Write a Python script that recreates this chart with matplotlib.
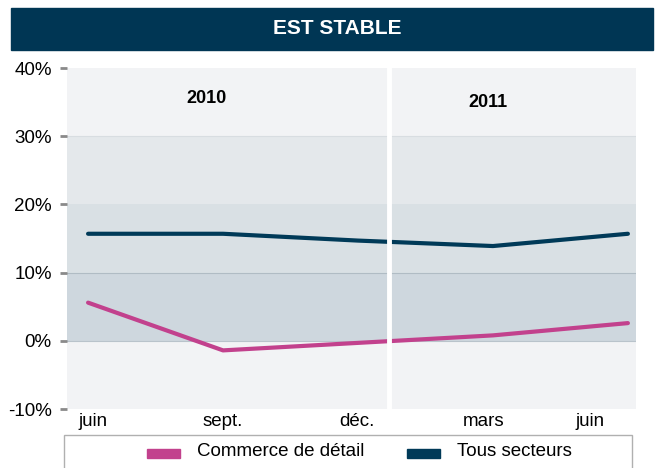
import matplotlib
matplotlib.use("Agg")
import matplotlib.pyplot as plt
from matplotlib.patches import Rectangle

plt.rcParams['font.family'] = ['Liberation Sans', 'DejaVu Sans']

# data (quarterly points, jun 2010 -> jun 2011)
x_pos = [0, 1, 2, 3, 4]
commerce = [5.6, -1.4, -0.3, 0.8, 2.6]
tous = [15.7, 15.7, 14.7, 13.9, 15.7]
series_names = ['Commerce de détail', 'Tous secteurs']
series_colors = ['#c2418d', '#003a58']
tick_pos = [0.04, 1.0, 1.99, 2.93, 3.72]
tick_labels = ['juin', 'sept.', 'déc.', 'mars', 'juin']
yticks = [-10, 0, 10, 20, 30, 40]
bands = [(-10, 0, '#f2f3f5'), (0, 10, '#ced7de'), (10, 20, '#d9e0e4'),
         (20, 30, '#e4e8eb'), (30, 40, '#f2f3f5')]
band_lines = [(0, '#b9c3cb'), (10, '#b0bcc4'), (30, '#d8dde1')]

fig = plt.figure(figsize=(6.59, 4.68), dpi=100)
ax = fig.add_axes([0.1017, 0.126, 0.8634, 0.7286])

for lo, hi, c in bands:
    ax.axhspan(lo, hi, color=c, lw=0, zorder=0)
for yv, c in band_lines:
    ax.axhline(yv, color=c, lw=0.8, zorder=1)

ax.plot(x_pos, commerce, color=series_colors[0], lw=3, solid_capstyle='round', zorder=3)
ax.plot(x_pos, tous, color=series_colors[1], lw=3, solid_capstyle='round', zorder=3)

# year separator
ax.axvline(2.23, color='white', lw=3.5, zorder=4)
ax.text(0.88, 35.6, '2010', fontsize=13, fontweight='bold', ha='center', va='center')
ax.text(2.96, 34.9, '2011', fontsize=13, fontweight='bold', ha='center', va='center')

ax.set_xlim(-0.156, 4.06)
ax.set_ylim(-10, 40)
ax.set_yticks(yticks)
ax.set_yticklabels(['%d%%' % v for v in yticks], fontsize=13.5)
ax.set_xticks(tick_pos)
ax.set_xticklabels(tick_labels, fontsize=13.5)
ax.tick_params(axis='y', length=5, width=2, color='#8a8a8a', pad=6)
ax.tick_params(axis='x', length=0, pad=3)
for s in ax.spines.values():
    s.set_visible(False)

# title bar
fig.patches.append(Rectangle((11 / 659, 1 - 50 / 468), 642 / 659, 42 / 468,
                             transform=fig.transFigure, color='#003654', zorder=0))
fig.text(337 / 659, 1 - 29 / 468, 'EST STABLE', color='white', fontsize=15,
         fontweight='bold', ha='center', va='center')

# legend box
fig.patches.append(Rectangle((64 / 659, -0.05), 568 / 659, 0.05 + 1 - 435 / 468,
                             transform=fig.transFigure, facecolor='white',
                             edgecolor='#b0b0b0', lw=1))
leg_x = [147, 407]
for i in range(2):
    fig.patches.append(Rectangle((leg_x[i] / 659, 1 - 458 / 468), 33 / 659, 9 / 468,
                                 transform=fig.transFigure, color=series_colors[i]))
    fig.text((leg_x[i] + 50) / 659, 1 - 452 / 468, series_names[i], fontsize=13.5,
             ha='left', va='center')

fig.savefig('out.png', dpi=100)
